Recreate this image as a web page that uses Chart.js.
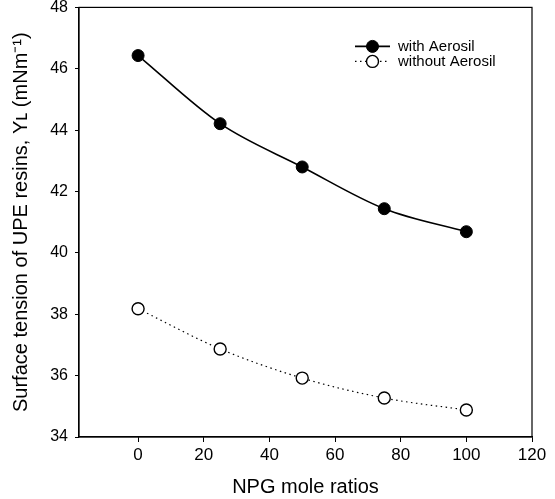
<!DOCTYPE html>
<html>
<head>
<meta charset="utf-8">
<script src="https://cdn.jsdelivr.net/npm/chart.js@4"></script>
<style>
  html, body { margin: 0; padding: 0; background: #fff; }
  #wrap { width: 555px; height: 499px; position: relative; }
</style>
</head>
<body>
<div id="wrap"><canvas id="c" width="555" height="499"></canvas></div>
<script>
const npgRatios = [0, 25, 50, 75, 100];
const withAerosil = [46.43, 44.21, 42.80, 41.44, 40.69];
const withoutAerosil = [38.18, 36.87, 35.92, 35.27, 34.88];
const seriesLabels = ['with Aerosil', 'without Aerosil'];
const xTickValues = [0, 20, 40, 60, 80, 100, 120];
const yTickValues = [34, 36, 38, 40, 42, 44, 46, 48];
const xTitle = 'NPG mole ratios';
const yTitle = 'Surface tension of UPE resins, \u03A5\u029F (mNm\u207B\u00B9)';

const toPts = (xs, ys) => xs.map((x, i) => ({ x: x, y: ys[i] }));

const frame = {
  id: 'frame',
  afterDraw(chart) {
    const { ctx, chartArea: a } = chart;
    ctx.save();
    ctx.strokeStyle = '#000';
    ctx.lineWidth = 1.2;
    ctx.strokeRect(a.left, a.top, a.right - a.left, a.bottom - a.top);
    ctx.restore();
  }
};

const legendLines = {
  id: 'legendLines',
  afterDraw(chart) {
    const { ctx, chartArea: a } = chart;
    const x0 = a.left + 276, x1 = a.left + 311, xm = (x0 + x1) / 2;
    ctx.save();
    chart.data.datasets.forEach((ds, i) => {
      const y = a.top + 39 + i * 15;
      ctx.strokeStyle = '#000';
      ctx.lineWidth = ds.borderWidth;
      ctx.setLineDash(ds.borderDash || []);
      ctx.beginPath(); ctx.moveTo(x0, y); ctx.lineTo(x1, y); ctx.stroke();
      ctx.setLineDash([]);
      ctx.beginPath(); ctx.arc(xm, y, ds.pointRadius, 0, Math.PI * 2);
      ctx.fillStyle = ds.pointBackgroundColor; ctx.fill();
      ctx.lineWidth = ds.pointBorderWidth; ctx.stroke();
      ctx.fillStyle = '#000';
      ctx.font = '15px "Liberation Sans", Arial, sans-serif';
      ctx.textBaseline = 'middle';
      ctx.textAlign = 'left';
      ctx.fillText(ds.label, x1 + 8, y);
    });
    ctx.restore();
  }
};

const tickFont = { family: '"Liberation Sans", Arial, sans-serif', size: 16 };

new Chart(document.getElementById('c'), {
  type: 'scatter',
  data: {
    datasets: [
      {
        label: seriesLabels[0],
        data: toPts(npgRatios, withAerosil),
        showLine: true,
        borderColor: '#000',
        borderWidth: 1.6,
        pointRadius: 6,
        pointBackgroundColor: '#000',
        pointBorderColor: '#000',
        pointBorderWidth: 1,
        cubicInterpolationMode: 'monotone'
      },
      {
        label: seriesLabels[1],
        data: toPts(npgRatios, withoutAerosil),
        showLine: true,
        borderColor: '#000',
        borderWidth: 1.2,
        borderDash: [1.5, 3.5],
        pointRadius: 6,
        pointBackgroundColor: '#fff',
        pointBorderColor: '#000',
        pointBorderWidth: 1.4,
        cubicInterpolationMode: 'monotone'
      }
    ]
  },
  options: {
    responsive: false,
    animation: false,
    layout: { padding: { top: 7, right: 23, left: 0, bottom: 0 } },
    plugins: { legend: { display: false }, tooltip: { enabled: false } },
    scales: {
      x: {
        type: 'linear',
        min: -18, max: 120,
        afterBuildTicks: s => { s.ticks = xTickValues.map(v => ({ value: v })); },
        afterFit: s => { s.height = 62; },
        grid: { display: true, drawOnChartArea: false, drawTicks: true, tickLength: 5, color: '#000', lineWidth: 1 },
        border: { display: true, color: '#000', width: 1.2 },
        ticks: { color: '#000', font: { family: '"Liberation Sans", Arial, sans-serif', size: 17 }, padding: 3, maxRotation: 0, autoSkip: false },
        title: { display: true, text: xTitle, color: '#000', font: { family: '"Liberation Sans", Arial, sans-serif', size: 20 }, padding: { top: 4, bottom: 0 } }
      },
      y: {
        type: 'linear',
        min: 34, max: 48,
        afterBuildTicks: s => { s.ticks = yTickValues.map(v => ({ value: v })); },
        afterFit: s => { s.width = 79; s.paddingTop = 0; s.paddingBottom = 0; },
        grid: { display: true, drawOnChartArea: false, drawTicks: true, tickLength: 4, color: '#000', lineWidth: 1 },
        border: { display: true, color: '#000', width: 1.2 },
        ticks: { color: '#000', font: tickFont, padding: 7 },
        title: { display: true, text: yTitle, color: '#000', font: { family: '"Liberation Sans", Arial, sans-serif', size: 20 }, padding: { top: 9, bottom: 0 } }
      }
    }
  },
  plugins: [frame, legendLines]
});
</script>
</body>
</html>
